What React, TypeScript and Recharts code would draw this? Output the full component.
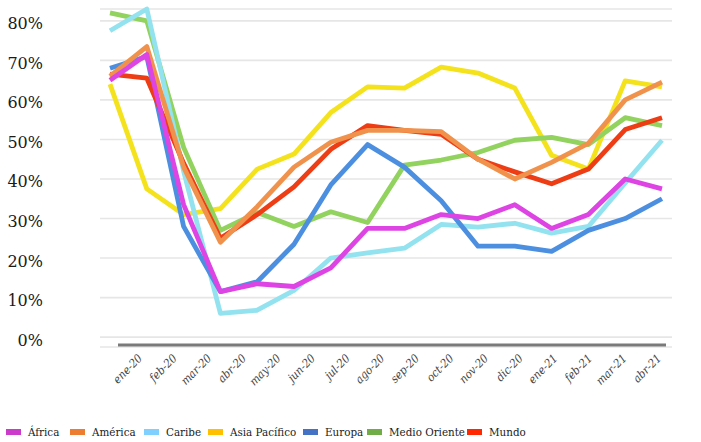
import React from 'react';
import { LineChart, Line, XAxis, YAxis, CartesianGrid, ReferenceLine } from 'recharts';

const months = ['ene-20', 'feb-20', 'mar-20', 'abr-20', 'may-20', 'jun-20', 'jul-20', 'ago-20', 'sep-20', 'oct-20', 'nov-20', 'dic-20', 'ene-21', 'feb-21', 'mar-21', 'abr-21'];

const africa = [65, 71.5, 33.5, 11.5, 13.5, 12.8, 17.5, 27.5, 27.5, 31, 30, 33.5, 27.5, 31, 40, 37.5];
const america = [66, 73.5, 43, 24, 33, 43, 49.3, 52.3, 52.3, 52, 45, 40, 44.2, 49, 60, 64.5];
const caribe = [77.5, 83, 42, 6, 6.8, 11.8, 20, 21.3, 22.5, 28.5, 27.8, 28.8, 26.3, 28, 39, 49.8];
const asiaPacifico = [64, 37.5, 31, 32.5, 42.5, 46.3, 56.8, 63.3, 63, 68.3, 66.8, 63, 46, 42.5, 64.8, 63.3];
const europa = [68, 71, 28, 11.5, 14, 23.5, 38.5, 48.7, 43, 34.5, 23, 23, 21.7, 27, 30, 35];
const medioOriente = [82, 80, 48, 27, 31.5, 28, 31.7, 29, 43.5, 44.8, 46.7, 49.8, 50.5, 48.7, 55.5, 53.5];
const mundo = [66.5, 65.5, 44, 25, 31, 38, 47.5, 53.5, 52.3, 51.3, 45, 41.8, 38.8, 42.5, 52.5, 55.5];

const yTicks = [0, 10, 20, 30, 40, 50, 60, 70, 80];

// drawing order (bottom to top)
const series = [
  { key: 'asiaPacifico', values: asiaPacifico, stroke: '#F4E21C' },
  { key: 'medioOriente', values: medioOriente, stroke: '#92D25E' },
  { key: 'caribe', values: caribe, stroke: '#92E2F0' },
  { key: 'europa', values: europa, stroke: '#4C8FE0' },
  { key: 'mundo', values: mundo, stroke: '#EE3C14' },
  { key: 'america', values: america, stroke: '#F0924C' },
  { key: 'africa', values: africa, stroke: '#DE44E4' },
];

const legendItems = [
  { name: 'África', color: '#CC3ACC', left: 6 },
  { name: 'América', color: '#ED7D31', left: 70 },
  { name: 'Caribe', color: '#7FCFFF', left: 144 },
  { name: 'Asia Pacífico', color: '#FFC000', left: 208 },
  { name: 'Europa', color: '#4472C4', left: 303 },
  { name: 'Medio Oriente', color: '#70AD47', left: 367 },
  { name: 'Mundo', color: '#FF2800', left: 467 },
];

const data = months.map((m, i) => {
  const row: Record<string, number | string> = { idx: i, month: m };
  series.forEach((s) => {
    row[s.key] = s.values[i];
  });
  return row;
});

const SERIF = "'DejaVu Serif', serif";
const SERIF_C = "'DejaVu Serif Condensed', 'DejaVu Serif', serif";

const YTick = (props: any) => {
  const { x, y, payload } = props;
  return (
    <text x={x - 57} y={y} dy={8.5} textAnchor="end" fontFamily={SERIF} fontSize={16} fill="#1a1a1a">
      {payload.value}%
    </text>
  );
};

const XTick = (props: any) => {
  const { x, y, payload } = props;
  const ty = y + 12;
  return (
    <text
      x={x}
      y={ty}
      transform={`rotate(-45 ${x} ${ty})`}
      textAnchor="end"
      fontFamily={SERIF_C}
      fontStyle="italic"
      fontSize={11.5}
      fill="#444"
    >
      {months[payload.value]}
    </text>
  );
};

export default function App() {
  return (
    <div style={{ position: 'absolute', left: 0, top: 0, width: 701, height: 442, background: '#fff' }}>
      <LineChart width={701} height={442} data={data} margin={{ top: 9, right: 29, left: 0, bottom: 65 }}>
        <CartesianGrid xAxisId="main" horizontal vertical={false} stroke="#e6e6e6" strokeWidth={1.6} />
        <XAxis xAxisId="main" type="number" dataKey="idx" domain={[-0.272, 15.272]} allowDataOverflow hide />
        <XAxis
          xAxisId="lab"
          type="number"
          dataKey="idx"
          domain={[-1.243, 15.289]}
          allowDataOverflow
          ticks={months.map((_, i) => i)}
          interval={0}
          axisLine={false}
          tickLine={false}
          tickSize={0}
          tickMargin={0}
          height={30}
          tick={<XTick />}
        />
        <YAxis
          type="number"
          domain={[-2.5, 82]}
          ticks={yTicks}
          interval={0}
          axisLine={false}
          tickLine={false}
          tickSize={0}
          tickMargin={0}
          width={100}
          tick={<YTick />}
        />
        <ReferenceLine
          xAxisId="main"
          segment={[{ x: 0.217, y: -2 }, { x: 15.109, y: -2 }]}
          stroke="#7a7a7a"
          strokeWidth={3}
          ifOverflow="visible"
        />
        {series.map((s) => (
          <Line
            key={s.key}
            xAxisId="main"
            type="linear"
            dataKey={s.key}
            stroke={s.stroke}
            strokeWidth={4.8}
            strokeLinejoin="round"
            dot={false}
            isAnimationActive={false}
          />
        ))}
      </LineChart>
      {legendItems.map((it) => (
        <div
          key={it.name}
          style={{
            position: 'absolute',
            left: it.left,
            top: 423,
            height: 18,
            display: 'flex',
            alignItems: 'center',
            whiteSpace: 'nowrap',
          }}
        >
          <div style={{ width: 15, height: 6, background: it.color, marginRight: 7 }} />
          <span style={{ fontFamily: SERIF_C, fontSize: 11.5, color: '#222' }}>{it.name}</span>
        </div>
      ))}
    </div>
  );
}
